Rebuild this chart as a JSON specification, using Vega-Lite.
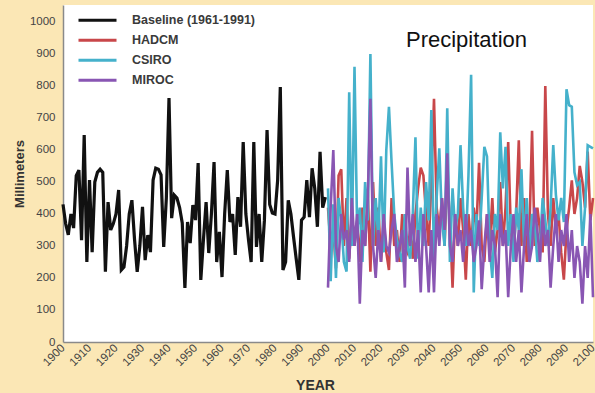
{
  "$schema": "https://vega.github.io/schema/vega-lite/v6.json",
  "autosize": {"type": "none"},
  "width": 530,
  "height": 337,
  "padding": {"left": 63, "top": 5, "right": 2, "bottom": 51},
  "background": "#fbe7b5",
  "title": {
    "text": "Precipitation", "anchor": "start", "frame": "group", "orient": "top",
    "offset": 0, "dx": 343, "dy": 64, "baseline": "alphabetic",
    "fontSize": 22, "fontWeight": "normal", "font": "Liberation Sans", "color": "#111"
  },
  "config": {
    "view": {"stroke": null, "fill": "white"},
    "font": "Liberation Sans"
  },
  "datasets": {
    "base": [
      {"year":1900,"v":430},{"year":1901,"v":370},{"year":1902,"v":335},{"year":1903,"v":400},{"year":1904,"v":356},
      {"year":1905,"v":520},{"year":1906,"v":537},{"year":1907,"v":318},{"year":1908,"v":647},{"year":1909,"v":250},
      {"year":1910,"v":506},{"year":1911,"v":281},{"year":1912,"v":500},{"year":1913,"v":530},{"year":1914,"v":540},
      {"year":1915,"v":530},{"year":1916,"v":220},{"year":1917,"v":437},{"year":1918,"v":350},{"year":1919,"v":370},
      {"year":1920,"v":400},{"year":1921,"v":475},{"year":1922,"v":225},{"year":1923,"v":234},{"year":1924,"v":300},
      {"year":1925,"v":400},{"year":1926,"v":443},{"year":1927,"v":320},{"year":1928,"v":219},{"year":1929,"v":300},
      {"year":1930,"v":422},{"year":1931,"v":256},{"year":1932,"v":334},{"year":1933,"v":281},{"year":1934,"v":506},
      {"year":1935,"v":543},{"year":1936,"v":540},{"year":1937,"v":522},{"year":1938,"v":297},{"year":1939,"v":450},
      {"year":1940,"v":762},{"year":1941,"v":387},{"year":1942,"v":459},{"year":1943,"v":450},{"year":1944,"v":420},
      {"year":1945,"v":372},{"year":1946,"v":169},{"year":1947,"v":375},{"year":1948,"v":309},{"year":1949,"v":428},
      {"year":1950,"v":381},{"year":1951,"v":559},{"year":1952,"v":194},{"year":1953,"v":320},{"year":1954,"v":437},
      {"year":1955,"v":278},{"year":1956,"v":400},{"year":1957,"v":562},{"year":1958,"v":250},{"year":1959,"v":344},
      {"year":1960,"v":203},{"year":1961,"v":400},{"year":1962,"v":537},{"year":1963,"v":375},{"year":1964,"v":400},
      {"year":1965,"v":272},{"year":1966,"v":453},{"year":1967,"v":360},{"year":1968,"v":625},{"year":1969,"v":400},
      {"year":1970,"v":319},{"year":1971,"v":250},{"year":1972,"v":625},{"year":1973,"v":297},{"year":1974,"v":400},
      {"year":1975,"v":250},{"year":1976,"v":380},{"year":1977,"v":662},{"year":1978,"v":430},{"year":1979,"v":403},
      {"year":1980,"v":400},{"year":1981,"v":506},{"year":1982,"v":797},{"year":1983,"v":225},{"year":1984,"v":250},
      {"year":1985,"v":443},{"year":1986,"v":400},{"year":1987,"v":328},{"year":1988,"v":260},{"year":1989,"v":194},
      {"year":1990,"v":381},{"year":1991,"v":390},{"year":1992,"v":506},{"year":1993,"v":390},{"year":1994,"v":543},
      {"year":1995,"v":480},{"year":1996,"v":360},{"year":1997,"v":594},{"year":1998,"v":420},{"year":1999,"v":453}
    ],
    "future": [
      {"year":2000,"HADCM":420,"CSIRO":480,"MIROC":170},
      {"year":2001,"HADCM":300,"CSIRO":190,"MIROC":420},
      {"year":2002,"HADCM":350,"CSIRO":430,"MIROC":600},
      {"year":2003,"HADCM":230,"CSIRO":200,"MIROC":300},
      {"year":2004,"HADCM":520,"CSIRO":450,"MIROC":250},
      {"year":2005,"HADCM":540,"CSIRO":380,"MIROC":400},
      {"year":2006,"HADCM":300,"CSIRO":250,"MIROC":320},
      {"year":2007,"HADCM":450,"CSIRO":220,"MIROC":350},
      {"year":2008,"HADCM":260,"CSIRO":780,"MIROC":250},
      {"year":2009,"HADCM":400,"CSIRO":300,"MIROC":450},
      {"year":2010,"HADCM":300,"CSIRO":860,"MIROC":300},
      {"year":2011,"HADCM":380,"CSIRO":350,"MIROC":400},
      {"year":2012,"HADCM":250,"CSIRO":420,"MIROC":120},
      {"year":2013,"HADCM":420,"CSIRO":250,"MIROC":350},
      {"year":2014,"HADCM":300,"CSIRO":500,"MIROC":300},
      {"year":2015,"HADCM":470,"CSIRO":380,"MIROC":450},
      {"year":2016,"HADCM":220,"CSIRO":900,"MIROC":760},
      {"year":2017,"HADCM":500,"CSIRO":300,"MIROC":300},
      {"year":2018,"HADCM":300,"CSIRO":450,"MIROC":200},
      {"year":2019,"HADCM":420,"CSIRO":320,"MIROC":350},
      {"year":2020,"HADCM":250,"CSIRO":580,"MIROC":250},
      {"year":2021,"HADCM":380,"CSIRO":280,"MIROC":400},
      {"year":2022,"HADCM":280,"CSIRO":600,"MIROC":300},
      {"year":2023,"HADCM":225,"CSIRO":735,"MIROC":280},
      {"year":2024,"HADCM":450,"CSIRO":560,"MIROC":350},
      {"year":2025,"HADCM":300,"CSIRO":400,"MIROC":400},
      {"year":2026,"HADCM":350,"CSIRO":320,"MIROC":250},
      {"year":2027,"HADCM":250,"CSIRO":280,"MIROC":300},
      {"year":2028,"HADCM":400,"CSIRO":250,"MIROC":350},
      {"year":2029,"HADCM":300,"CSIRO":400,"MIROC":170},
      {"year":2030,"HADCM":280,"CSIRO":300,"MIROC":545},
      {"year":2031,"HADCM":350,"CSIRO":260,"MIROC":300},
      {"year":2032,"HADCM":260,"CSIRO":400,"MIROC":400},
      {"year":2033,"HADCM":400,"CSIRO":640,"MIROC":250},
      {"year":2034,"HADCM":480,"CSIRO":260,"MIROC":350},
      {"year":2035,"HADCM":545,"CSIRO":420,"MIROC":155},
      {"year":2036,"HADCM":520,"CSIRO":300,"MIROC":400},
      {"year":2037,"HADCM":400,"CSIRO":500,"MIROC":300},
      {"year":2038,"HADCM":300,"CSIRO":380,"MIROC":155},
      {"year":2039,"HADCM":500,"CSIRO":725,"MIROC":350},
      {"year":2040,"HADCM":760,"CSIRO":250,"MIROC":155},
      {"year":2041,"HADCM":420,"CSIRO":450,"MIROC":400},
      {"year":2042,"HADCM":350,"CSIRO":605,"MIROC":300},
      {"year":2043,"HADCM":450,"CSIRO":380,"MIROC":450},
      {"year":2044,"HADCM":300,"CSIRO":300,"MIROC":350},
      {"year":2045,"HADCM":520,"CSIRO":730,"MIROC":590},
      {"year":2046,"HADCM":380,"CSIRO":250,"MIROC":300},
      {"year":2047,"HADCM":170,"CSIRO":480,"MIROC":250},
      {"year":2048,"HADCM":400,"CSIRO":350,"MIROC":400},
      {"year":2049,"HADCM":300,"CSIRO":400,"MIROC":300},
      {"year":2050,"HADCM":450,"CSIRO":615,"MIROC":350},
      {"year":2051,"HADCM":350,"CSIRO":420,"MIROC":250},
      {"year":2052,"HADCM":195,"CSIRO":300,"MIROC":400},
      {"year":2053,"HADCM":400,"CSIRO":520,"MIROC":300},
      {"year":2054,"HADCM":300,"CSIRO":835,"MIROC":350},
      {"year":2055,"HADCM":420,"CSIRO":155,"MIROC":250},
      {"year":2056,"HADCM":350,"CSIRO":400,"MIROC":300},
      {"year":2057,"HADCM":560,"CSIRO":300,"MIROC":380},
      {"year":2058,"HADCM":300,"CSIRO":450,"MIROC":165},
      {"year":2059,"HADCM":250,"CSIRO":610,"MIROC":300},
      {"year":2060,"HADCM":400,"CSIRO":580,"MIROC":400},
      {"year":2061,"HADCM":300,"CSIRO":300,"MIROC":250},
      {"year":2062,"HADCM":450,"CSIRO":200,"MIROC":350},
      {"year":2063,"HADCM":280,"CSIRO":400,"MIROC":300},
      {"year":2064,"HADCM":350,"CSIRO":350,"MIROC":140},
      {"year":2065,"HADCM":500,"CSIRO":655,"MIROC":400},
      {"year":2066,"HADCM":300,"CSIRO":480,"MIROC":300},
      {"year":2067,"HADCM":420,"CSIRO":610,"MIROC":350},
      {"year":2068,"HADCM":625,"CSIRO":300,"MIROC":140},
      {"year":2069,"HADCM":350,"CSIRO":400,"MIROC":300},
      {"year":2070,"HADCM":280,"CSIRO":250,"MIROC":400},
      {"year":2071,"HADCM":400,"CSIRO":420,"MIROC":250},
      {"year":2072,"HADCM":630,"CSIRO":350,"MIROC":350},
      {"year":2073,"HADCM":300,"CSIRO":540,"MIROC":155},
      {"year":2074,"HADCM":450,"CSIRO":300,"MIROC":300},
      {"year":2075,"HADCM":250,"CSIRO":450,"MIROC":400},
      {"year":2076,"HADCM":350,"CSIRO":260,"MIROC":250},
      {"year":2077,"HADCM":660,"CSIRO":400,"MIROC":300},
      {"year":2078,"HADCM":300,"CSIRO":380,"MIROC":420},
      {"year":2079,"HADCM":420,"CSIRO":250,"MIROC":350},
      {"year":2080,"HADCM":350,"CSIRO":300,"MIROC":250},
      {"year":2081,"HADCM":280,"CSIRO":450,"MIROC":400},
      {"year":2082,"HADCM":800,"CSIRO":380,"MIROC":300},
      {"year":2083,"HADCM":400,"CSIRO":300,"MIROC":350},
      {"year":2084,"HADCM":300,"CSIRO":420,"MIROC":170},
      {"year":2085,"HADCM":450,"CSIRO":615,"MIROC":300},
      {"year":2086,"HADCM":350,"CSIRO":460,"MIROC":400},
      {"year":2087,"HADCM":400,"CSIRO":380,"MIROC":250},
      {"year":2088,"HADCM":280,"CSIRO":450,"MIROC":350},
      {"year":2089,"HADCM":195,"CSIRO":375,"MIROC":300},
      {"year":2090,"HADCM":350,"CSIRO":790,"MIROC":400},
      {"year":2091,"HADCM":420,"CSIRO":740,"MIROC":250},
      {"year":2092,"HADCM":505,"CSIRO":735,"MIROC":350},
      {"year":2093,"HADCM":400,"CSIRO":530,"MIROC":200},
      {"year":2094,"HADCM":450,"CSIRO":490,"MIROC":300},
      {"year":2095,"HADCM":550,"CSIRO":500,"MIROC":250},
      {"year":2096,"HADCM":500,"CSIRO":300,"MIROC":120},
      {"year":2097,"HADCM":420,"CSIRO":420,"MIROC":300},
      {"year":2098,"HADCM":595,"CSIRO":615,"MIROC":200},
      {"year":2099,"HADCM":380,"CSIRO":610,"MIROC":400},
      {"year":2100,"HADCM":450,"CSIRO":605,"MIROC":140}
    ]
  },
  "encoding": {
    "x": {
      "field": "year", "type": "quantitative",
      "scale": {"domain": [1900, 2100], "nice": false, "zero": false},
      "axis": {
        "title": "YEAR", "values": [1900,1910,1920,1930,1940,1950,1960,1970,1980,1990,2000,2010,2020,2030,2040,2050,2060,2070,2080,2090,2100],
        "format": "d", "labelAngle": -45, "labelAlign": "right", "labelBaseline": "middle",
        "labelFontSize": 11.5, "labelColor": "#444", "labelPadding": 4,
        "ticks": false, "grid": false, "domainColor": "#8a8a8a", "domainWidth": 1.5,
        "titleFontSize": 14, "titleFontWeight": "bold", "titleColor": "#333",
        "titleX": 252, "titleY": 43, "titleBaseline": "middle", "labelFlush": false, "labelOverlap": false
      }
    },
    "y": {
      "field": "v", "type": "quantitative",
      "scale": {"domain": [0, 1053], "nice": false},
      "axis": {
        "title": "Millimeters", "values": [0,100,200,300,400,500,600,700,800,900,1000],
        "format": "d",
        "labelFontSize": 11.5, "labelColor": "#444", "labelPadding": 8,
        "ticks": false, "grid": false, "domainColor": "#8a8a8a", "domainWidth": 1.5,
        "titleFontSize": 13, "titleFontWeight": "bold", "titleColor": "#333",
        "titlePadding": 3, "labelFlush": false, "labelOverlap": false
      }
    }
  },
  "layer": [
    {
      "data": {"name": "base"},
      "transform": [{"calculate": "'Baseline (1961-1991)'", "as": "series"}],
      "mark": {"type": "line", "strokeWidth": 3.2, "interpolate": "linear"},
      "encoding": {
        "color": {"field": "series", "type": "nominal"}
      }
    },
    {
      "data": {"name": "future"},
      "transform": [
        {"fold": ["HADCM", "CSIRO", "MIROC"], "as": ["series", "v"]}
      ],
      "mark": {"type": "line", "strokeWidth": 2.6},
      "encoding": {
        "color": {
          "field": "series", "type": "nominal",
          "scale": {
            "domain": ["Baseline (1961-1991)", "HADCM", "CSIRO", "MIROC"],
            "range": ["#111111", "#c8474a", "#45b1cb", "#8956b3"]
          },
          "legend": {
            "orient": "none", "legendX": 14, "legendY": 5.5, "title": null,
            "symbolType": "stroke", "symbolSize": 1444, "symbolStrokeWidth": 3,
            "clipHeight": 19.3, "rowPadding": 0, "labelOffset": 14,
            "labelFontSize": 12.5, "labelFontWeight": "bold", "labelColor": "#3a3a3a",
            "labelLimit": 300
          }
        }
      }
    }
  ]
}
